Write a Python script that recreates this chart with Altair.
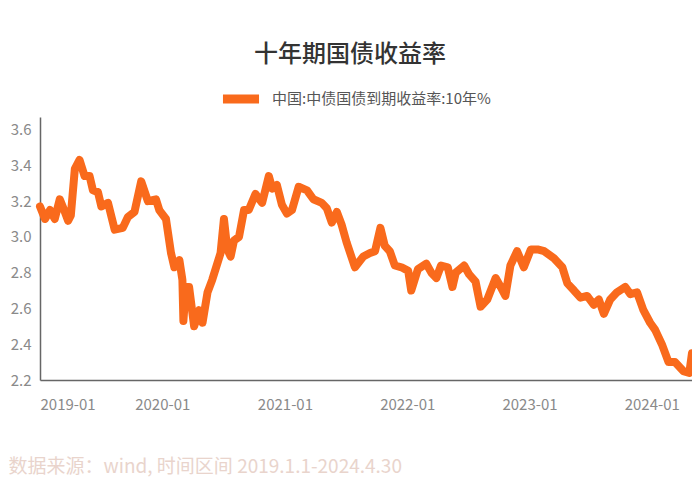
import altair as alt
import pandas as pd

dates = [
    "2019-01-01", "2019-01-16", "2019-01-31", "2019-02-14", "2019-03-01", "2019-03-16",
    "2019-03-26", "2019-04-03", "2019-04-15", "2019-04-29", "2019-05-14", "2019-05-29",
    "2019-06-08", "2019-06-23", "2019-07-03", "2019-07-23", "2019-08-12", "2019-09-05",
    "2019-09-20", "2019-10-10", "2019-10-30", "2019-11-19", "2019-12-13", "2019-12-23",
    "2020-01-12", "2020-01-27", "2020-02-06", "2020-02-21", "2020-03-01", "2020-03-04",
    "2020-03-11", "2020-03-21", "2020-04-05", "2020-04-20", "2020-04-30", "2020-05-15",
    "2020-05-29", "2020-06-13", "2020-06-23", "2020-07-03", "2020-07-13", "2020-07-23",
    "2020-08-02", "2020-08-17", "2020-09-01", "2020-09-15", "2020-10-05", "2020-10-25",
    "2020-11-14", "2020-11-24", "2020-12-08", "2020-12-23", "2021-01-07", "2021-01-22",
    "2021-02-11", "2021-03-08", "2021-03-27", "2021-04-21", "2021-05-06", "2021-05-21",
    "2021-06-05", "2021-06-19", "2021-07-04", "2021-07-29", "2021-08-23", "2021-09-12",
    "2021-09-27", "2021-10-13", "2021-10-26", "2021-11-10", "2021-11-25", "2021-12-15",
    "2022-01-04", "2022-01-13", "2022-02-02", "2022-02-27", "2022-03-14", "2022-03-29",
    "2022-04-12", "2022-05-02", "2022-05-16", "2022-05-26", "2022-06-20", "2022-07-05",
    "2022-07-24", "2022-08-08", "2022-08-28", "2022-09-22", "2022-10-07", "2022-10-21",
    "2022-11-05", "2022-11-25", "2022-12-15", "2023-01-05", "2023-01-25", "2023-02-14",
    "2023-03-15", "2023-04-09", "2023-04-24", "2023-05-14", "2023-06-02", "2023-06-22",
    "2023-07-12", "2023-07-27", "2023-08-11", "2023-08-30", "2023-09-19", "2023-10-14",
    "2023-10-29", "2023-11-18", "2023-12-07", "2023-12-27", "2024-01-11", "2024-01-31",
    "2024-02-20", "2024-03-10", "2024-04-04", "2024-04-22", "2024-04-30",
]
yields = [
    3.17, 3.10, 3.15, 3.10, 3.21, 3.14,
    3.09, 3.12, 3.38, 3.43, 3.34, 3.34,
    3.26, 3.25, 3.17, 3.19, 3.04, 3.05,
    3.11, 3.14, 3.31, 3.20, 3.21, 3.15,
    3.10, 2.91, 2.83, 2.87, 2.76, 2.53,
    2.72, 2.72, 2.50, 2.59, 2.52, 2.69,
    2.76, 2.85, 2.91, 3.10, 2.93, 2.89,
    2.98, 3.00, 3.15, 3.15, 3.24, 3.19,
    3.34, 3.27, 3.29, 3.18, 3.13, 3.15,
    3.28, 3.26, 3.21, 3.19, 3.16, 3.08,
    3.14, 3.07, 2.97, 2.83, 2.89, 2.91,
    2.92, 3.05, 2.95, 2.92, 2.84, 2.83,
    2.81, 2.70, 2.82, 2.85, 2.80, 2.77,
    2.84, 2.83, 2.72, 2.80, 2.84, 2.79,
    2.75, 2.61, 2.65, 2.77, 2.72, 2.67,
    2.84, 2.92, 2.83, 2.93, 2.93, 2.92,
    2.88, 2.83, 2.74, 2.70, 2.66, 2.67,
    2.62, 2.65, 2.57, 2.65, 2.69, 2.72,
    2.68, 2.69, 2.59, 2.52, 2.48, 2.40,
    2.30, 2.30, 2.25, 2.24, 2.35,
]
series_name = "中国:中债国债到期收益率:10年%"
y_ticks = [2.2, 2.4, 2.6, 2.8, 3.0, 3.2, 3.4, 3.6]
x_tick_years = [2019, 2020, 2021, 2022, 2023, 2024]

df = pd.DataFrame({"date": dates, "value": yields, "series": series_name})

FONT = "Noto Sans CJK SC"
ORANGE = "#F96A1C"

chart = (
    alt.Chart(df)
    .mark_line(strokeWidth=8, strokeJoin="round", strokeCap="round")
    .encode(
        x=alt.X(
            "date:T",
            scale=alt.Scale(domain=["2019-01-01", "2024-04-30"], nice=False),
            axis=alt.Axis(
                values=[alt.DateTime(year=y, month=1, date=1) for y in x_tick_years],
                format="%Y-%m",
                grid=False,
                ticks=False,
                labelPadding=17,
                labelFontSize=15,
                labelColor="#8A8A8A",
                domainColor="#666666",
                domainWidth=1.5,
                title="数据来源：wind, 时间区间 2019.1.1-2024.4.30",
                titleAnchor="start",
                titleAlign="left",
                titleX=-32,
                titleY=77,
                titleFontSize=19,
                titleFontWeight="normal",
                titleColor="#E9D4CC",
            ),
        ),
        y=alt.Y(
            "value:Q",
            scale=alt.Scale(domain=[2.2, 3.67], nice=False, zero=False),
            axis=alt.Axis(
                values=y_ticks,
                format=".1f",
                grid=False,
                ticks=False,
                labelPadding=9,
                labelFontSize=15,
                labelColor="#8A8A8A",
                domainColor="#666666",
                domainWidth=1.5,
                title=None,
            ),
        ),
        color=alt.Color(
            "series:N",
            scale=alt.Scale(range=[ORANGE]),
            legend=alt.Legend(
                orient="none",
                legendX=178,
                legendY=-41,
                title=None,
                symbolType="stroke",
                symbolStrokeWidth=9,
                symbolSize=1300,
                labelFontSize=15,
                labelColor="#555555",
                labelOffset=8,
                labelLimit=0,
            ),
        ),
    )
    .properties(
        width=652,
        height=263,
        autosize=alt.AutoSizeParams(type="none"),
        padding={"left": 32, "top": 109, "right": 0, "bottom": 100},
        title=alt.TitleParams(
            "十年期国债收益率",
            anchor="middle",
            dx=-16,
            offset=9,
            fontSize=24,
            fontWeight=500,
            color="#333333",
        ),
    )
    .configure(font=FONT)
    .configure_view(stroke=None)
)

chart.save("out.html", embed_options={"renderer": "svg", "actions": False})
